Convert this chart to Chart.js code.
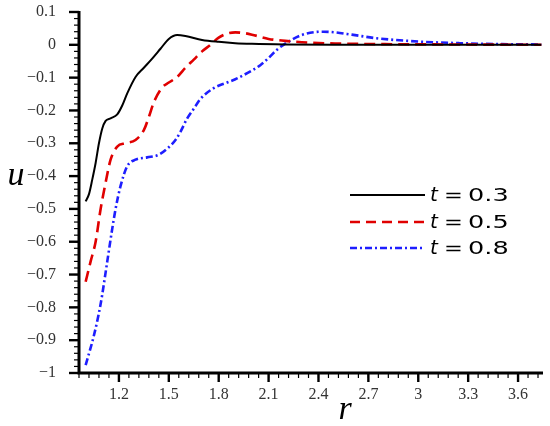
<!DOCTYPE html>
<html>
<head>
<meta charset="utf-8">
<script src="https://cdn.jsdelivr.net/npm/chart.js@4.4.1/dist/chart.umd.min.js"></script>
<style>
  body { margin: 0; background: #fff; }
  #wrap { width: 550px; height: 426px; }
</style>
</head>
<body>
<div id="wrap"><canvas id="myChart" width="550" height="426"></canvas></div>
<script>
// values
let rBlack = [1.0, 1.02, 1.04, 1.06, 1.08, 1.1, 1.12, 1.15, 1.19, 1.22, 1.25, 1.3, 1.35, 1.4, 1.45, 1.5, 1.55, 1.6, 1.7, 1.8, 1.9, 2.0, 2.2, 2.5, 3.0, 3.74];
let uBlack = [-0.477, -0.455, -0.41, -0.36, -0.3, -0.255, -0.232, -0.224, -0.212, -0.185, -0.148, -0.098, -0.07, -0.042, -0.012, 0.018, 0.03, 0.027, 0.015, 0.009, 0.005, 0.003, 0.001, 0, 0, 0];

let rRed = [1.0, 1.03, 1.06, 1.09, 1.12, 1.15, 1.19, 1.24, 1.3, 1.35, 1.38, 1.41, 1.46, 1.5, 1.55, 1.6, 1.65, 1.7, 1.75, 1.8, 1.85, 1.9, 1.95, 2.0, 2.1, 2.2, 2.3, 2.5, 2.8, 3.2, 3.74];
let uRed = [-0.722, -0.66, -0.6, -0.5, -0.42, -0.35, -0.31, -0.3, -0.29, -0.26, -0.22, -0.175, -0.13, -0.115, -0.098, -0.07, -0.045, -0.02, 0.0, 0.022, 0.034, 0.038, 0.036, 0.031, 0.018, 0.012, 0.008, 0.004, 0.002, 0.001, 0];

let rBlue = [1.0, 1.05, 1.09, 1.13, 1.16, 1.18, 1.21, 1.25, 1.3, 1.37, 1.44, 1.5, 1.54, 1.57, 1.61, 1.65, 1.69, 1.77, 1.85, 1.9, 2.0, 2.05, 2.1, 2.15, 2.22, 2.3, 2.38, 2.43, 2.5, 2.6, 2.75, 3.0, 3.25, 3.5, 3.74];
let uBlue = [-0.976, -0.885, -0.79, -0.66, -0.56, -0.5, -0.43, -0.37, -0.35, -0.343, -0.335, -0.312, -0.29, -0.265, -0.225, -0.195, -0.165, -0.132, -0.115, -0.105, -0.078, -0.062, -0.04, -0.015, 0.01, 0.03, 0.039, 0.04, 0.038, 0.031, 0.02, 0.01, 0.005, 0.002, 0.001];

let xTicks = [1.2, 1.5, 1.8, 2.1, 2.4, 2.7, 3, 3.3, 3.6];
let seriesLabels = ['0.3', '0.5', '0.8'];

function toPoints(xs, ys) {
    return xs.map(function(x, i) { return { x: x, y: ys[i] }; });
}

// draws text squeezed/stretched sideways
function wideText(c, txt, x, y, sx) {
    c.save();
    c.translate(x, y);
    c.scale(sx, 1);
    c.fillText(txt, 0, 0);
    c.restore();
}

// axis lines, major/minor ticks, axis letters and legend
const decor = {
    id: 'decor',
    afterDraw: function(chart) {
        const c = chart.ctx;
        const a = chart.chartArea;
        const xs = chart.scales.x;
        const ys = chart.scales.y;
        c.save();
        c.strokeStyle = '#000';

        // minor ticks
        c.lineWidth = 1.2;
        for (let k = 0; k <= 55; k++) {
            let py = ys.getPixelForValue(-1 + k * 0.02);
            c.beginPath(); c.moveTo(a.left - 5, py); c.lineTo(a.left, py); c.stroke();
        }
        for (let k = 0; k * 0.06 + 0.96 <= 3.751; k++) {
            let px = xs.getPixelForValue(0.96 + k * 0.06);
            c.beginPath(); c.moveTo(px, a.bottom); c.lineTo(px, a.bottom + 5); c.stroke();
        }
        // major ticks
        c.lineWidth = 2.4;
        for (let k = 0; k <= 11; k++) {
            let py = ys.getPixelForValue(-1 + k * 0.1);
            c.beginPath(); c.moveTo(a.left - 10, py); c.lineTo(a.left, py); c.stroke();
        }
        xTicks.forEach(function(v) {
            let px = xs.getPixelForValue(v);
            c.beginPath(); c.moveTo(px, a.bottom); c.lineTo(px, a.bottom + 9); c.stroke();
        });
        // axis lines
        c.lineWidth = 3;
        c.beginPath();
        c.moveTo(a.left, a.top - 1);
        c.lineTo(a.left, a.bottom);
        c.lineTo(a.right, a.bottom);
        c.stroke();

        // axis letters
        c.fillStyle = '#000';
        c.font = 'italic 34px "Liberation Serif"';
        c.textAlign = 'center';
        c.textBaseline = 'middle';
        c.fillText('u', 16, ys.getPixelForValue(-0.4));
        c.fillText('r', xs.getPixelForValue(2.56), 410);

        // legend
        const x0 = 350, x1 = 425;
        const rows = [195, 222, 248];
        chart.data.datasets.forEach(function(ds, i) {
            c.save();
            c.strokeStyle = ds.borderColor;
            c.lineWidth = ds.borderWidth;
            c.setLineDash(ds.legendDash);
            c.beginPath(); c.moveTo(x0, rows[i]); c.lineTo(x1, rows[i]); c.stroke();
            c.restore();
            c.textAlign = 'left';
            c.fillStyle = '#000';
            c.font = 'italic 20px "DejaVu Sans"';
            c.fillText('t', 430, rows[i] + 1);
            c.font = '18px "DejaVu Sans"';
            wideText(c, '=', 444, rows[i] + 1, 1.25);
            wideText(c, seriesLabels[i], 468, rows[i] + 1, 1.42);
        });
        c.restore();
    }
};

const ctx = document.getElementById('myChart').getContext('2d');
const myChart = new Chart(ctx, {
    type: 'line',
    data: {
        datasets: [{
            label: 't = 0.3',
            data: toPoints(rBlack, uBlack),
            borderColor: '#000000',
            borderWidth: 2,
            legendDash: [],
            tension: 0.4,
            cubicInterpolationMode: 'monotone',
            pointRadius: 0
        }, {
            label: 't = 0.5',
            data: toPoints(rRed, uRed),
            borderColor: '#e00000',
            borderWidth: 2.6,
            borderDash: [11, 6],
            legendDash: [10, 6],
            tension: 0.4,
            cubicInterpolationMode: 'monotone',
            pointRadius: 0
        }, {
            label: 't = 0.8',
            data: toPoints(rBlue, uBlue),
            borderColor: '#1e1eff',
            borderWidth: 2.6,
            borderDash: [7, 3, 2, 3],
            legendDash: [7, 3, 2, 3],
            tension: 0.4,
            cubicInterpolationMode: 'monotone',
            pointRadius: 0
        }]
    },
    options: {
        responsive: false,
        animation: false,
        layout: { padding: { top: 12, right: 7, left: 0, bottom: 0 } },
        plugins: {
            legend: { display: false },
            tooltip: { enabled: false }
        },
        scales: {
            x: {
                type: 'linear',
                min: 0.96,
                max: 3.75,
                afterBuildTicks: function(s) {
                    s.ticks = xTicks.map(function(v) { return { value: v }; });
                },
                afterFit: function(s) {
                    s.height = 53;
                    s.paddingLeft = 0; s.paddingRight = 0;
                },
                grid: { display: false },
                border: { display: false },
                ticks: {
                    padding: 4,
                    color: '#333',
                    font: { family: 'Liberation Serif', size: 16 },
                    callback: function(v) { return String(Math.round(v * 10) / 10); }
                }
            },
            y: {
                min: -1,
                max: 0.1,
                afterFit: function(s) {
                    s.width = 79;
                    s.paddingTop = 0; s.paddingBottom = 0;
                },
                grid: { display: false },
                border: { display: false },
                ticks: {
                    stepSize: 0.1,
                    padding: 15,
                    color: '#333',
                    font: { family: 'Liberation Serif', size: 16 },
                    callback: function(v) {
                        let s = String(Math.round(v * 10) / 10);
                        return s.replace('-', '\u2212');
                    }
                }
            }
        }
    },
    plugins: [decor]
});
</script>
</body>
</html>
